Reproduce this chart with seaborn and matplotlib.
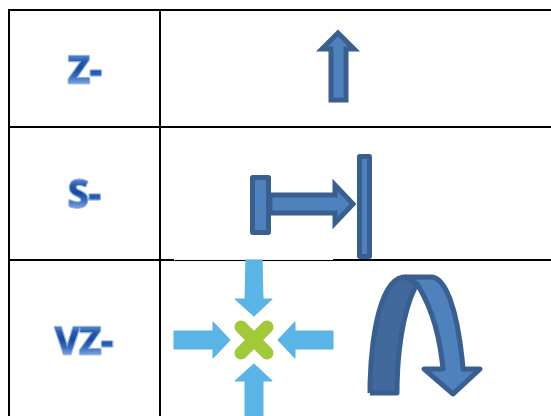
import numpy as np
import pandas as pd
import seaborn as sns
import matplotlib.pyplot as plt
import matplotlib.patheffects as pe
from matplotlib.textpath import TextPath
from matplotlib.font_manager import FontProperties
from matplotlib.patches import PathPatch
from matplotlib.path import Path
from matplotlib.transforms import Affine2D

# table rules, in image pixels
rows_y = [9.5, 127, 259.7]
cols_x = [9, 160]
labels = ['Z-', 'S-', 'VZ-']
label_left = [68, 68, 55]
label_base = [83, 207, 354]

# shapes
up_arrow = [(338, 33), (354, 49), (346, 49), (346, 100), (331, 100), (331, 49), (322, 49)]
s_bar_left = [(252, 177), (268, 177), (268, 232), (252, 232)]
s_bar_right = [(359, 156), (369, 156), (369, 256), (359, 256)]
s_arrow = [(270, 195), (335, 195), (335, 185), (353, 204), (335, 223), (335, 213), (270, 213)]

merge_top = [(246, 260), (262, 260), (263, 299), (272, 299), (254, 316), (235, 299), (245, 299)]
merge_bottom = [(245, 416), (263, 416), (263, 381), (272, 381), (254, 364), (235, 381), (245, 381)]
merge_left = [(174, 331), (213, 331), (213, 322), (230, 340), (213, 358), (213, 349), (174, 349)]
merge_right = [(333, 331), (295, 331), (295, 322), (278, 340), (295, 358), (295, 349), (333, 349)]
cross_a = [(241, 327), (267, 353)]
cross_b = [(267, 327), (241, 353)]

# u-turn outlines, L = straight, C = three bezier points
uturn_back = [('M', (370, 393)), ('C', (370, 340), (380, 277), (405, 277)), ('L', (417, 284)),
              ('C', (405, 305), (397, 345), (397, 393)), ('L', (370, 393))]
uturn_front = [('M', (405, 277)), ('L', (431, 277)), ('C', (448, 277), (459, 320), (463, 369)),
               ('L', (480, 369)), ('L', (453, 394)), ('L', (424, 369)), ('L', (443, 369)),
               ('C', (439, 330), (430, 305), (417, 284)), ('L', (405, 277))]

EDGE = '#385f8f'
FILL = '#4f81bd'
BACK = '#41699b'
SKY = '#5ab4e6'
GREEN = '#a2c93a'

sns.set_theme(style='white')
plt.rcParams['font.family'] = ['Open Sans', 'DejaVu Sans']
px = 72 / 100  # one pixel in points

fig = plt.figure(figsize=(5.51, 4.16), dpi=100)
ax = fig.add_axes([0, 0, 1, 1])
ax.set_xlim(0, 551)
ax.set_ylim(416, 0)
ax.axis('off')


def rule(xs, ys, lw=2):
    d = pd.DataFrame({'x': xs, 'y': ys})
    sns.lineplot(data=d, x='x', y='y', color='black', lw=lw * px, ax=ax, sort=False,
                 estimator=None, legend=False, solid_capstyle='butt')


for y in rows_y[:2]:
    rule([8, 551], [y, y])
rule([8, 174], [rows_y[2], rows_y[2]])
rule([174, 333], [rows_y[2], rows_y[2]], 1.1)
rule([333, 551], [rows_y[2], rows_y[2]])
for x in cols_x:
    rule([x, x], [8.5, 416])


def shape(pts, fill, edge=None, lw=5, join='round'):
    ax.fill(*zip(*pts), facecolor=fill, edgecolor=edge if edge else fill,
            linewidth=lw * px, joinstyle=join, zorder=3)


def curved(spec, fill, edge, lw=5):
    verts, codes = [], []
    for item in spec:
        if item[0] == 'C':
            verts += list(item[1:])
            codes += [Path.CURVE4] * 3
        else:
            verts.append(item[1])
            codes.append(Path.MOVETO if item[0] == 'M' else Path.LINETO)
    ax.add_patch(PathPatch(Path(verts, codes), facecolor=fill, edgecolor=edge,
                           linewidth=lw * px, joinstyle='round', zorder=3))


shape(up_arrow, FILL, EDGE, join='miter')
shape(s_arrow, FILL, EDGE, join='miter')
shape(s_bar_left, FILL, EDGE)
shape(s_bar_right, FILL, EDGE)
for arrow in (merge_top, merge_bottom, merge_left, merge_right):
    shape(arrow, SKY, lw=1)
for arm in (cross_a, cross_b):
    ax.plot(*zip(*arm), color=GREEN, lw=13 * px, solid_capstyle='round', zorder=3)
curved(uturn_back, BACK, EDGE)
curved(uturn_front, FILL, EDGE)

# labels: real text, then a vertical gradient clipped to the same glyphs
font = FontProperties(family='Open Sans', weight='bold', size=27)
grad = np.linspace(0, 1, 64).reshape(-1, 1)
cmap = sns.blend_palette(['#6f9ad8', '#2a5db0', '#174aa2', '#356bbd', '#7ba3dd'], as_cmap=True)
for text, x, base in zip(labels, label_left, label_base):
    ax.text(x, base, text, fontproperties=font, color='#3568b8', va='baseline', ha='left',
            zorder=4, path_effects=[pe.withStroke(linewidth=2, foreground='#8fb0e0')])
    tp = TextPath((0, 0), text, prop=font)
    scale = 100 / 72
    trans = Affine2D().scale(scale, -scale).translate(x, base) + ax.transData
    im = ax.imshow(grad, cmap=cmap, extent=(x - 2, x + 70, base + 1, base - 30), aspect='auto', zorder=5)
    im.set_clip_path(PathPatch(tp, transform=trans))
ax.set_xlim(0, 551)
ax.set_ylim(416, 0)

fig.savefig('out.png', dpi=100)
